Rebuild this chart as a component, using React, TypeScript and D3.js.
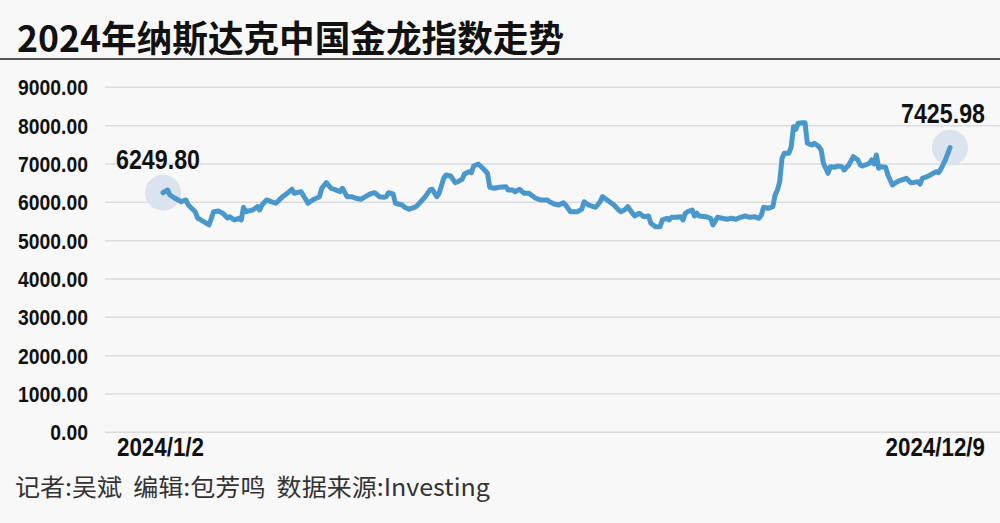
import React from "react";
import * as d3 from "d3";

const titleText = "2024年纳斯达克中国金龙指数走势";
const footerText = "记者:吴斌  编辑:包芳鸣  数据来源:Investing";
const startDateLabel = "2024/1/2";
const endDateLabel = "2024/12/9";
const yTicks = [0, 1000, 2000, 3000, 4000, 5000, 6000, 7000, 8000, 9000];

// calendar-day offsets from 2024-01-02
const dayOffsets = [
  0, 2, 3, 5, 8, 10, 11, 14, 15, 17, 20, 22, 24, 26, 28, 29, 31, 33, 34, 35,
  36, 39, 41, 42, 43, 45, 47, 49, 52, 54, 56, 57, 60, 62, 63, 65, 68, 69, 71, 73,
  75, 77, 78, 80, 82, 84, 86, 88, 90, 92, 94, 96, 97, 98, 100, 101, 104, 105, 107, 108,
  110, 112, 114, 116, 117, 119, 120, 122, 123, 125, 127, 128, 130, 131, 133, 134, 135, 137, 139, 141,
  142, 144, 146, 149, 150, 152, 153, 155, 157, 159, 161, 162, 164, 167, 168, 170, 172, 174, 175, 177,
  180, 182, 183, 185, 187, 188, 190, 191, 193, 196, 198, 199, 201, 202, 204, 205, 207, 209, 211, 212,
  214, 216, 217, 219, 220, 221, 223, 225, 226, 227, 228, 230, 231, 232, 233, 236, 238, 239, 241, 243,
  245, 247, 249, 251, 253, 255, 257, 259, 260, 261, 263, 265, 266, 267, 268, 269, 270, 272, 273, 274,
  275, 276, 278, 279, 280, 282, 283, 285, 286, 287, 288, 289, 290, 292, 293, 295, 296, 298, 300, 302,
  303, 304, 306, 307, 308, 309, 310, 311, 312, 314, 315, 317, 318, 320, 322, 323, 325, 326, 328, 329,
  330, 332, 334, 336, 337, 338, 340, 342,
];

const indexValues = [
  6249.8, 6320, 6191, 6113, 6016, 6061, 5930, 5755, 5591, 5521,
  5408, 5755, 5774, 5714, 5591, 5625, 5539, 5583, 5539, 5870,
  5755, 5800, 5886, 5800, 5930, 6061, 6016, 5975, 6147, 6235,
  6340, 6235, 6277, 6079, 5975, 6061, 6147, 6366, 6512, 6366,
  6322, 6277, 6366, 6147, 6147, 6105, 6079, 6147, 6217, 6251,
  6147, 6131, 6147, 6251, 6217, 5975, 5930, 5870, 5818, 5844,
  5886, 6016, 6147, 6322, 6340, 6147, 6235, 6627, 6713, 6687,
  6512, 6538, 6601, 6739, 6799, 6773, 6948, 7000, 6888, 6757,
  6392, 6366, 6392, 6408, 6322, 6322, 6277, 6340, 6235, 6235,
  6147, 6105, 6061, 6061, 6016, 5956, 5930, 5990, 5930, 5755,
  5755, 5818, 6016, 5930, 5886, 5870, 6016, 6147, 6061, 5930,
  5800, 5755, 5818, 5886, 5714, 5643, 5714, 5625, 5643, 5453,
  5364, 5364, 5539, 5583, 5539, 5609, 5609, 5625, 5539, 5714,
  5755, 5800, 5643, 5714, 5643, 5625, 5583, 5408, 5609, 5583,
  5557, 5583, 5557, 5609, 5643, 5609, 5625, 5583, 5661, 5870,
  5844, 5886, 6191, 6322, 6538, 7149, 7279, 7279, 7452, 7973,
  7905, 8062, 8077, 8077, 7540, 7496, 7540, 7452, 7365, 7018,
  6888, 6757, 6930, 6914, 6948, 6930, 6843, 6974, 7190, 7104,
  6974, 6948, 6992, 7018, 7104, 7000, 7235, 6888, 6930, 6914,
  6713, 6452, 6496, 6564, 6601, 6627, 6512, 6512, 6538, 6478,
  6627, 6669, 6731, 6799, 6773, 6862, 7104, 7425.98,
];

const W = 1000;
const H = 523;
const startDate = new Date(2024, 0, 2);
const endDate = new Date(2024, 11, 9);

const NUM_FONT = "'Liberation Sans', Arial, sans-serif";
const CJK_FONT = "'Noto Sans CJK SC', sans-serif";
const CONDENSE = 0.86;

export default function App() {
  const x = d3.scaleTime().domain([startDate, endDate]).range([163, 950]);
  const y = d3.scaleLinear().domain([0, 9000]).range([432.3, 87.3]);

  const data = dayOffsets.map((d, i) => ({
    date: d3.timeDay.offset(startDate, d),
    value: indexValues[i],
  }));

  const line = d3
    .line<{ date: Date; value: number }>()
    .x((d) => x(d.date))
    .y((d) => y(d.value));

  const first = data[0];
  const last = data[data.length - 1];

  const condensedText = (
    tx: number,
    ty: number,
    text: string,
    size: number,
    anchor: string,
    key?: string
  ) => (
    <text
      key={key}
      transform={`translate(${tx},${ty}) scale(${CONDENSE},1)`}
      textAnchor={anchor}
      fontFamily={NUM_FONT}
      fontWeight="bold"
      fontSize={size}
      fill="#111"
    >
      {text}
    </text>
  );

  return (
    <svg
      width={W}
      height={H}
      style={{ position: "fixed", left: 0, top: 0, display: "block" }}
    >
      <rect x={0} y={0} width={W} height={H} fill="#f8f8f8" />
      <text
        x={17}
        y={52}
        fontFamily={CJK_FONT}
        fontWeight="bold"
        fontSize={36}
        fill="#111"
        textLength={547}
        lengthAdjust="spacingAndGlyphs"
      >
        {titleText}
      </text>
      <line x1={0} x2={W} y1={59} y2={59} stroke="#555" strokeWidth={2} />

      {yTicks.map((t) => (
        <line
          key={"g" + t}
          x1={105}
          x2={W}
          y1={y(t)}
          y2={y(t)}
          stroke="#dcdcdc"
          strokeWidth={1.5}
        />
      ))}
      {yTicks.map((t) =>
        condensedText(88, y(t) + 8, d3.format(".2f")(t), 22.5, "end", "l" + t)
      )}

      <circle cx={x(first.date)} cy={y(first.value)} r={18} fill="#dbe3ee" />
      <circle cx={x(last.date)} cy={y(last.value)} r={18} fill="#dbe3ee" />

      <path
        d={line(data) || ""}
        fill="none"
        stroke="#4a97cc"
        strokeWidth={5}
        strokeLinejoin="round"
        strokeLinecap="round"
      />

      {condensedText(
        x(first.date) - 5,
        y(first.value) - 24,
        d3.format(".2f")(first.value),
        27,
        "middle"
      )}
      {condensedText(
        x(last.date) - 7,
        y(last.value) - 25,
        d3.format(".2f")(last.value),
        27,
        "middle"
      )}

      {condensedText(117, 456, startDateLabel, 26, "start")}
      {condensedText(985, 456, endDateLabel, 26, "end")}

      <text
        x={15}
        y={496}
        fontFamily={CJK_FONT}
        fontSize={24}
        fill="#333"
        textLength={475}
        lengthAdjust="spacingAndGlyphs"
        style={{ whiteSpace: "pre" }}
      >
        {footerText}
      </text>
    </svg>
  );
}
